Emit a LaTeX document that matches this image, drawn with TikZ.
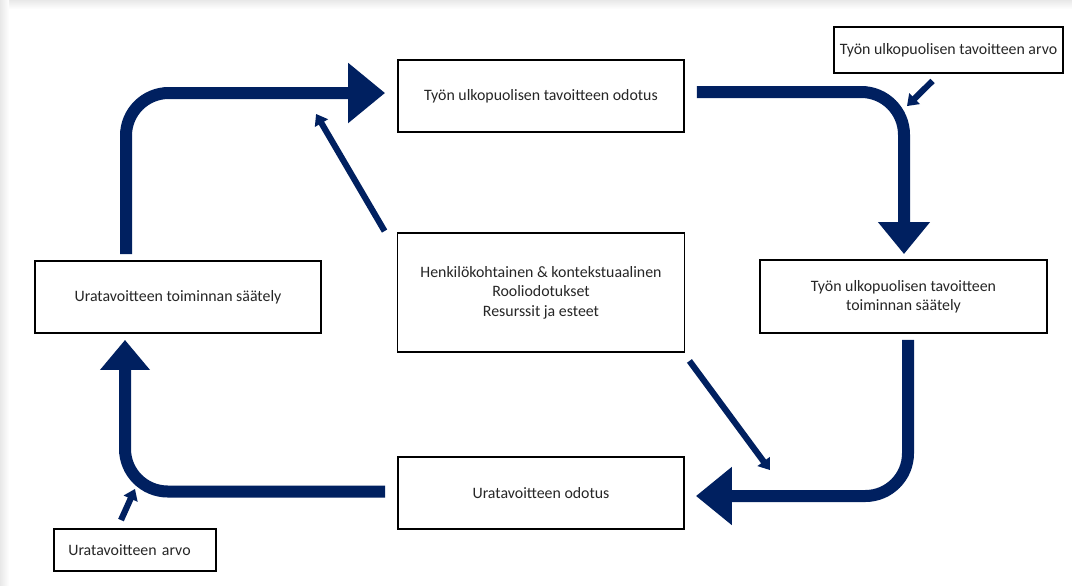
\documentclass[tikz,border=0pt]{standalone}
\usepackage{fontspec}
\setmainfont{Carlito}
\usetikzlibrary{arrows.meta,calc}
\definecolor{navy}{HTML}{002060}
\definecolor{txt}{HTML}{262626}
\begin{document}
\begin{tikzpicture}[x=0.75pt,y=-0.75pt,
  box/.style={draw=black,line width=1.4pt,fill=white,inner sep=0pt,align=center,
    text=txt,font=\fontsize{11.9}{14.6}\selectfont},
  bigarrow/.style={draw=navy,line width=9pt,rounded corners=32pt},
  smallarrow/.style={draw=navy,line width=4.6pt,-{Triangle[length=8pt,width=11pt]}}]
\useasboundingbox (0,0) rectangle (1072,586);
\fill[white] (0,0) rectangle (1072,586);
\shade[top color=gray!18,bottom color=white] (0,0) rectangle (1072,9);
\shade[left color=gray!18,right color=white] (0,0) rectangle (9,586);
% nodes
\node[box,minimum width=214.5pt,minimum height=54pt] (A) at (541,96) {Työn ulkopuolisen tavoitteen odotus};
\node[box,minimum width=171.75pt,minimum height=34.5pt] (B) at (948.5,50) {Työn ulkopuolisen tavoitteen arvo};
\node[box,minimum width=215.25pt,minimum height=54.75pt] (C) at (903.5,296.5) {Työn ulkopuolisen tavoitteen\\toiminnan säätely};
\node[box,minimum width=214.5pt,minimum height=54pt] (D) at (541,493) {Uratavoitteen odotus};
\node[box,minimum width=215.25pt,minimum height=89.25pt] (E) at (541,292.5) {Henkilökohtainen \& kontekstuaalinen\\Rooliodotukset\\Resurssit ja esteet};
\node[box,minimum width=214.5pt,minimum height=54pt] (F) at (178,297) {Uratavoitteen toiminnan säätely};
\node[box,minimum width=121.5pt,minimum height=31.5pt,text width=100pt,align=left] (G) at (135,550) {Uratavoitteen arvo};
% big arrows
\draw[bigarrow,-{Triangle[length=27.75pt,width=43.5pt]}] ($(F.north)+(-52,-6)$) |- ($(A.west)+(-12,-3)$);
\draw[bigarrow,-{Triangle[length=24pt,width=37.5pt]}] ($(A.east)+(12,-4)$) -| ($(C.north)+(0.5,-5)$);
\draw[bigarrow,-{Triangle[length=27pt,width=42pt]}] ($(C.south)+(4.5,6)$) |- ($(D.east)+(11,3)$);
\draw[bigarrow,-{Triangle[length=22.5pt,width=36pt]}] ($(D.west)+(-12,-1.5)$) -| ($(F.south)+(-53,6)$);
% small arrows
\draw[smallarrow] ($(E.north west)+(-12,-1)$) -- ($(A.south west)+(-81,-19)$);
\draw[smallarrow] ($(B.south)+(-16,7)$) -- ($(C.north)+(3.5,-153)$);
\draw[smallarrow] ($(E.south east)+(4,8)$) -- ($(D.north east)+(85,14)$);
\draw[smallarrow] ($(G.north)+(-14,-8)$) -- ($(F.south)+(-43,155)$);
\end{tikzpicture}
\end{document}
